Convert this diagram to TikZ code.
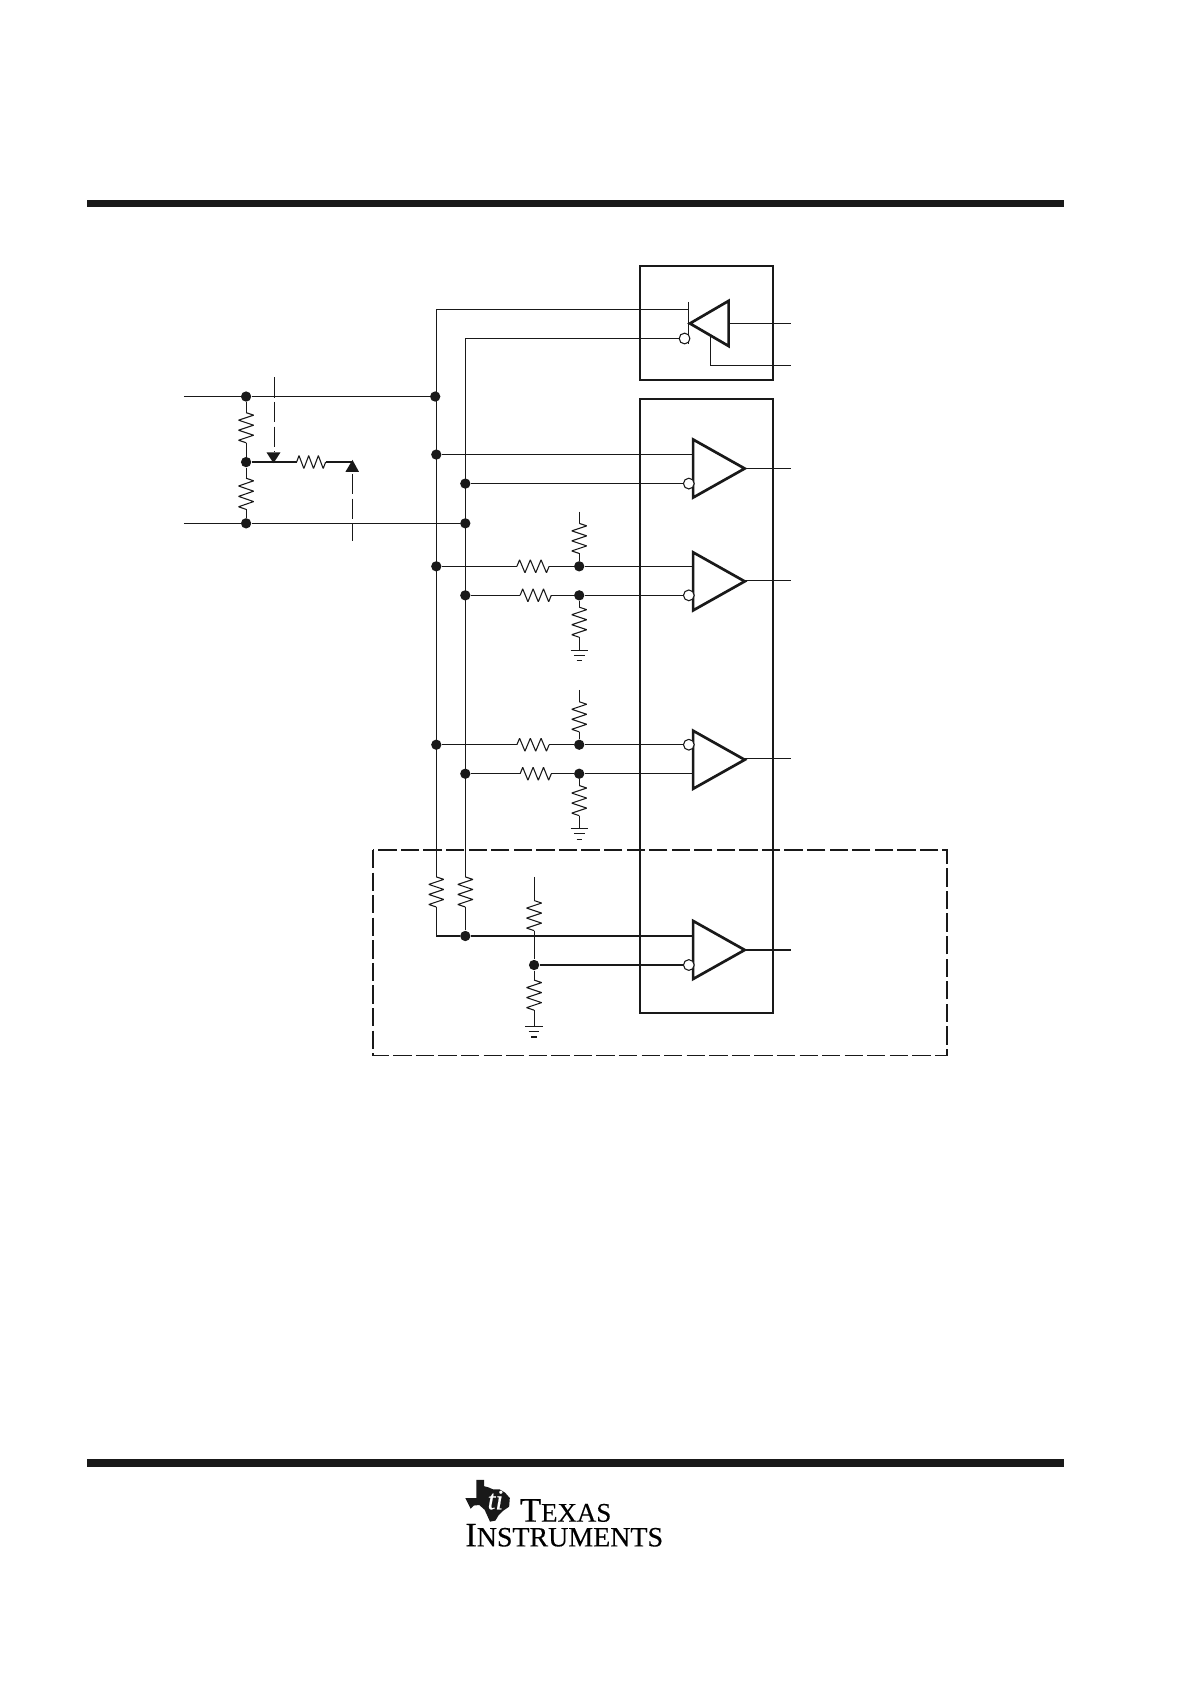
\documentclass[tikz,border=0pt]{standalone}
\usepackage{fontspec}
\setmainfont{Liberation Serif}
\newfontfamily\logofont[FakeBold=0.35]{Liberation Serif}
\usetikzlibrary{calc}
\tikzset{
 x=0.5pt,y=-0.5pt,
 wire/.style={line width=0.65pt,draw=black!90},
 thin wire/.style={line width=0.5pt,draw=black!90},
 boxline/.style={line width=0.95pt,draw=black!90},
 tri/.style={line width=1.25pt,draw=black!90,line join=miter,fill=white},
 bubble/.style={circle,draw=black!90,line width=0.5pt,fill=white,minimum size=5pt,inner sep=0pt},
 dotn/.style={circle,fill=black!90,minimum size=4.8pt,inner sep=0pt},
 bar/.style={fill=black!90,draw=none},
 dashb/.style={line width=0.7pt,draw=black!90,dash pattern=on 8.5pt off 2pt},
 dashs/.style={line width=0.45pt,draw=black!90,dash pattern=on 9.5pt off 2pt},
 head/.style={fill=black!90,draw=none},
 pt/.style={inner sep=0pt,minimum size=0pt,outer sep=0pt}
}
\newcommand{\vres}[3]{%
 \draw[thin wire,line join=bevel] (#1,#2)
  \foreach \k/\d in {1/7,2/-7,3/7,4/-7,5/7,6/-7}{ -- ($(#1,#2)!{(\k-0.5)/6}!(#1,#3)+(\d,0)$)} -- (#1,#3);}
\newcommand{\hres}[3]{%
 \draw[thin wire,line join=bevel] (#2,#1)
  \foreach \k/\d in {1/-6,2/6,3/-6,4/6,5/-6,6/6}{ -- ($(#2,#1)!{(\k-0.5)/6}!(#3,#1)+(0,\d)$)} -- (#3,#1);}
\newcommand{\gnd}[2]{%
 \draw[thin wire] (#1-8,#2) -- (#1+8,#2);
 \draw[thin wire] (#1-5,#2+5) -- (#1+5,#2+5);
 \draw[thin wire] (#1-2.5,#2+10) -- (#1+2.5,#2+10);}
\begin{document}
\begin{tikzpicture}
\useasboundingbox (0,0) rectangle (1109,1568);
% rules
\fill[bar] (81,186) rectangle (990,193);
\fill[bar] (81,1358) rectangle (990,1365);
% boxes
\draw[boxline] (595.5,247.5) rectangle (719,353.5);
\draw[boxline] (595.5,371) rectangle (719,943);
\draw[dashb] (347,791) rectangle (881,982);
% named junctions
\foreach \n/\x/\y in {a1/229/369,a2/405/369,a3/229/430,a4/229/487,a5/433/487,
  b1/406/423,b2/433/450,
  c1/406/527,c2/539/527,c3/433/554,c4/539/554,
  d1/406/693,d2/539/693,d3/433/720,d4/539/720,
  e1/433/871,e2/497/898}
  {\node[dotn] (\n) at (\x,\y) {};}
% triangles
\coordinate (t1in) at (645,423);\coordinate (t1n) at (641,450);\coordinate (t1o) at (693,436);
\coordinate (t2in) at (645,527);\coordinate (t2n) at (641,554);\coordinate (t2o) at (693,540);
\coordinate (t3in) at (645,720);\coordinate (t3n) at (641,693);\coordinate (t3o) at (693,706);
\coordinate (t4in) at (645,871);\coordinate (t4n) at (641,898);\coordinate (t4o) at (693,884);
% free ends
\foreach \n/\x/\y in {in1/171/369,in2/171/487,o0/736/301,o0b/736/340,o1/736/436,o2/736/540,o3/736/706,o4/736/884,
  bt/406/288,bb/433/315,tg/641/288,tb/632/315,top2/539/476,top3/539/642,top4/497/816,
  gn2/539/605,gn3/539/771,gn4/497/955,
  ar/328/430,rA/406/816,rB/433/816,rA2/406/871}
  {\coordinate (\n) at (\x,\y);}
% wires
\draw[wire] (in1) -- (a1) -- (a2);
\draw[wire] (in2) -- (a4) -- (a5);
\draw[wire] (rA) -- (bt) -- (tg);
\draw[wire] (rB) -- (bb) -- (tb);
\draw[wire] (b1) -- (t1in);
\draw[wire] (b2) -- (t1n);
\draw[wire] (c2) -- (t2in);
\draw[wire] (c4) -- (t2n);
\draw[wire] (d2) -- (t3n);
\draw[wire] (d4) -- (t3in);
\draw[wire] (e1) -- (t4in);
\draw[wire] (e2) -- (t4n);
\draw[wire] (e1) -- (rA2);
\draw[wire] (t1o) -- (o1);
\draw[wire] (t2o) -- (o2);
\draw[wire] (t3o) -- (o3);
\draw[wire] (t4o) -- (o4);
% resistors and stubs
\draw[thin wire] (a1) -- (229,384) (229,412) -- (a3) -- (229,445) (229,474) -- (a4);
\vres{229}{384}{412}\vres{229}{445}{474}
\draw[wire] (a3) -- (276,430) (303,430) -- (ar);
\hres{430}{276}{303}
\draw[wire] (c1) -- (481,527) (511,527) -- (c2);
\hres{527}{481}{511}
\draw[wire] (c3) -- (484,554) (513,554) -- (c4);
\hres{554}{484}{513}
\draw[wire] (d1) -- (481,693) (511,693) -- (d2);
\hres{693}{481}{511}
\draw[wire] (d3) -- (484,720) (513,720) -- (d4);
\hres{720}{484}{513}
\draw[thin wire] (top2) -- (539,487) (539,515) -- (c2);
\vres{539}{487}{515}
\draw[thin wire] (c4) -- (539,565) (539,593) -- (gn2);
\vres{539}{565}{593}\gnd{539}{605}
\draw[thin wire] (top3) -- (539,653) (539,681) -- (d2);
\vres{539}{653}{681}
\draw[thin wire] (d4) -- (539,731) (539,759) -- (gn3);
\vres{539}{731}{759}\gnd{539}{771}
\draw[thin wire] (top4) -- (497,838) (497,866) -- (e2) -- (497,912) (497,940) -- (gn4);
\vres{497}{838}{866}\vres{497}{912}{940}\gnd{497}{955}
\vres{406}{816}{844}\vres{433}{816}{844}
\draw[wire] (406,844) -- (rA2);
\draw[wire] (433,844) -- (e1);
% amplifiers
\foreach \y in {409,514,680,857}{
 \draw[tri] (645,\y) -- (645,\y+54) -- (693,\y+27) -- cycle;}
\foreach \n in {t1n,t2n,t3n,t4n}{\node[bubble] at (\n) {};}
% receiver at top
\draw[thin wire] (641,281) -- (641,320);
\node[bubble] at (637,315) {};
\draw[wire] (661,313) -- (661,340) -- (o0b);
\draw[tri] (642,301) -- (678,280) -- (678,322) -- cycle;
\draw[wire] (678,301) -- (o0);
% dashed arrows
\draw[dashs] (255,351) -- (255,421);
\fill[head] (248,421) -- (261,421) -- (254.5,431) -- cycle;
\draw[dashs] (328,441) -- (328,503);
\fill[head] (321.5,439) -- (334,439) -- (328,428) -- cycle;
% logo
\fill[black!90] (433,1394) -- (443.4,1394) -- (443.4,1377) -- (450.5,1377) -- (450.5,1383) -- (454.3,1384) -- (459,1386) -- (465,1386) -- (470,1389) -- (474.4,1394) -- (473.8,1402) -- (468,1406) -- (464,1410) -- (461,1415) -- (456,1416) -- (451,1405) -- (446,1400.5) -- (441,1401) -- (438,1404) -- (436,1400) -- cycle;
\node[pt,white,font=\logofont\fontsize{13}{13}\selectfont\itshape] (ti) at (461,1396) {ti};
\node[pt,anchor=base west,font=\logofont\fontsize{16}{16}\selectfont] (tx) at (484,1416) {T{\fontsize{12.5}{12.5}\selectfont EXAS}};
\node[pt,anchor=base west,font=\logofont\fontsize{16}{16}\selectfont] (ins) at (433,1439) {I{\fontsize{13}{13}\selectfont NSTRUMENTS}};
\end{tikzpicture}
\end{document}
